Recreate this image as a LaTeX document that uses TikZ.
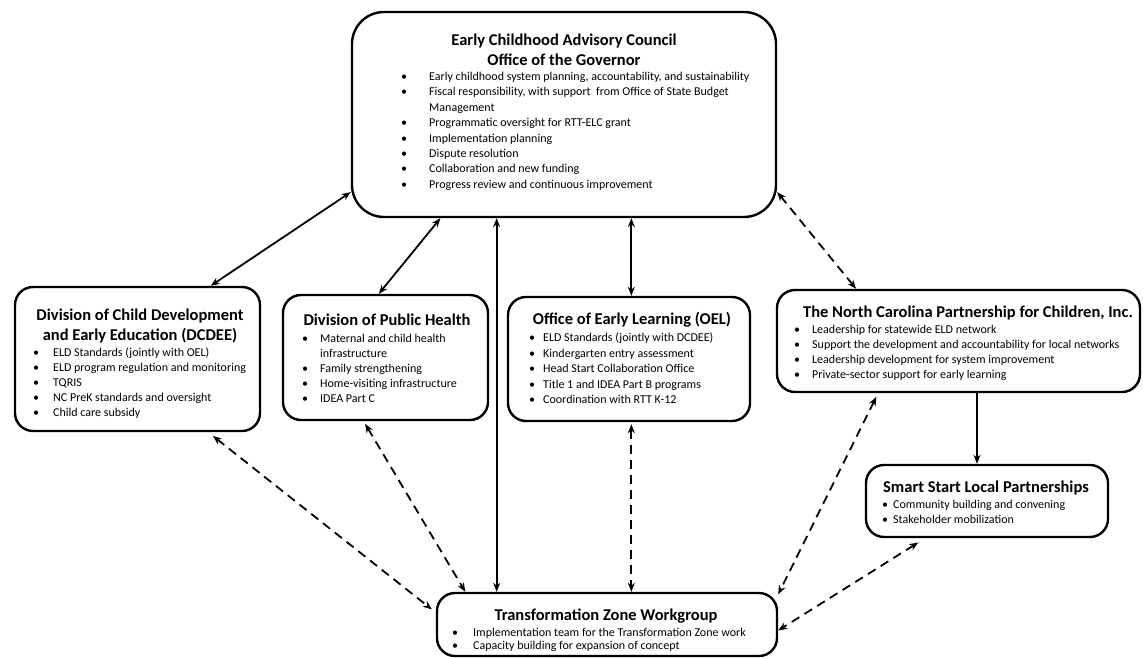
\documentclass[tikz,border=0pt]{standalone}
\usepackage{fontspec}
\setmainfont{Carlito}
\usetikzlibrary{arrows.meta}
\newlength{\bgap}
\newcommand{\bi}[1]{\hbox{\llap{\textbullet\hspace{\bgap}}#1}}
\newcommand{\ci}[1]{\hbox{#1}}
\newcommand{\blist}[3]{\vtop{\baselineskip=#1\lineskiplimit=-20pt\setlength{\bgap}{#2}#3}}
\tikzset{
  box/.style={draw, line width=2.4pt, rounded corners=18pt, inner sep=0pt},
  ttl/.style={anchor=base, inner sep=0pt, font=\fontsize{16.5}{20}\selectfont\bfseries},
  lst/.style={anchor=base west, inner sep=0pt, font=\fontsize{12}{15}\selectfont},
  arr/.style={line width=1.8pt, {Stealth[length=9pt,width=7pt]}-{Stealth[length=9pt,width=7pt]}},
  one/.style={line width=1.8pt, -{Stealth[length=9pt,width=7pt]}},
  dsh/.style={arr, dash pattern=on 9pt off 6pt}
}
\begin{document}
\begin{tikzpicture}[x=1pt,y=-1pt]
\fill[white] (0,0) rectangle (1143,658);
\useasboundingbox (0,0) rectangle (1143,658);

% boxes
\node[box, rounded corners=32pt, minimum width=424pt, minimum height=205pt] (ecac) at (564,114.5) {};
\node[box, minimum width=245pt, minimum height=144pt] (dcdee) at (137.5,359) {};
\node[box, minimum width=205pt, minimum height=125pt] (dph) at (385.5,357.5) {};
\node[box, minimum width=242pt, minimum height=124pt] (oel) at (629,359) {};
\node[box, minimum width=363pt, minimum height=102pt] (ncpc) at (958.5,341) {};
\node[box, minimum width=242pt, minimum height=72pt] (ssl) at (987,501) {};
\node[box, minimum width=340pt, minimum height=63pt] (tzw) at (607,624.5) {};

% titles
\node[ttl] (ecacT1) at (564,45.5) {Early Childhood Advisory Council};
\node[ttl] (ecacT2) at (564,65.5) {Office of the Governor};
\node[ttl] (dcdeeT1) at (140,320.5) {Division of Child Development};
\node[ttl] (dcdeeT2) at (140,340.5) {and Early Education (DCDEE)};
\node[ttl] (dphT) at (387,325.5) {Division of Public Health};
\node[ttl] (oelT) at (632,324.5) {Office of Early Learning (OEL)};
\node[ttl] (ncpcT) at (968,317) {The North Carolina Partnership for Children, Inc.};
\node[ttl] (sslT) at (986,492.5) {Smart Start Local Partnerships};
\node[ttl] (tzwT) at (606,620.5) {Transformation Zone Workgroup};

% lists
\node[lst] (ecacL) at (429,80.5) {\blist{15.4pt}{22pt}{%
  \bi{Early childhood system planning, accountability, and sustainability}
  \bi{Fiscal responsibility, with support\ \ from Office of State Budget}
  \ci{Management}
  \bi{Programmatic oversight for RTT-ELC grant}
  \bi{Implementation planning}
  \bi{Dispute resolution}
  \bi{Collaboration and new funding}
  \bi{Progress review and continuous improvement}}};
\node[lst] (dcdeeL) at (53,356.5) {\blist{15pt}{14pt}{%
  \bi{ELD Standards (jointly with OEL)}
  \bi{ELD program regulation and monitoring}
  \bi{TQRIS}
  \bi{NC PreK standards and oversight}
  \bi{Child care subsidy}}};
\node[lst] (dphL) at (320,342.5) {\blist{15pt}{12pt}{%
  \bi{Maternal and child health}
  \ci{infrastructure}
  \bi{Family strengthening}
  \bi{Home-visiting infrastructure}
  \bi{IDEA Part C}}};
\node[lst] (oelL) at (543,341.5) {\blist{15.5pt}{8pt}{%
  \bi{ELD Standards (jointly with DCDEE)}
  \bi{Kindergarten entry assessment}
  \bi{Head Start Collaboration Office}
  \bi{Title 1 and IDEA Part B programs}
  \bi{Coordination with RTT K-12}}};
\node[lst] (ncpcL) at (812,333) {\blist{15.3pt}{12pt}{%
  \bi{Leadership for statewide ELD network}
  \bi{Support the development and accountability for local networks}
  \bi{Leadership development for system improvement}
  \bi{Private-sector support for early learning}}};
\node[lst] (sslL) at (893,508.5) {\blist{15pt}{5pt}{%
  \bi{Community building and convening}
  \bi{Stakeholder mobilization}}};
\node[lst] (tzwL) at (473,636.5) {\blist{12.5pt}{15pt}{%
  \bi{Implementation team for the Transformation Zone work}
  \bi{Capacity building for expansion of concept}}};

% connectors
\draw[arr] (ecac.200) -- (dcdee.45.6);
\draw[arr] (ecac.220) -- (dph.96.8);
\draw[arr] (ecac.237.6) -- (ecac.237.6 |- tzw.north);
\draw[arr] (ecac.303.6) -- (ecac.303.6 |- oel.north);
\draw[dsh] (ecac.340.4) -- (ncpc.153.8);
\draw[one] ([xshift=-10pt]ssl.north |- ncpc.south) -- ([xshift=-10pt]ssl.north);
\draw[dsh, shorten <=6pt, shorten >=5pt] (dcdee.314.8) -- (tzw.176.8);
\draw[dsh, shorten <=3pt] (dph.251.8) -- (tzw.167.3);
\draw[dsh, shorten <=2pt] (ecac.303.6 |- oel.south) -- (ecac.303.6 |- tzw.north);
\draw[dsh, shorten <=4pt] (ncpc.213.7) -- (tzw.10.5);
\draw[dsh, shorten <=8pt] (ssl.211.4) -- (tzw.358.8);
\end{tikzpicture}
\end{document}
